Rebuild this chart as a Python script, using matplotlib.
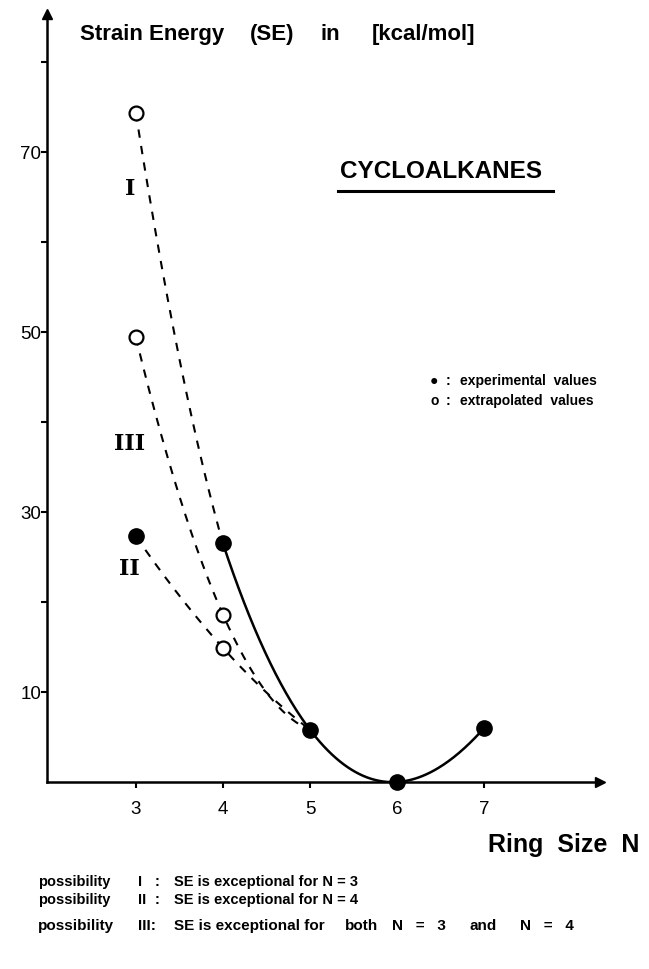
import numpy as np
import matplotlib.pyplot as plt

plt.rcParams['font.family'] = ['Liberation Sans', 'DejaVu Sans']

## Data
##############
# experimental strain energies (filled circles)
exp_n = [3, 4, 5, 6, 7]
exp_se = [27.3, 26.5, 5.8, 0.0, 6.0]
# extrapolated values (open circles)
ext_n = [3, 3, 4, 4]
ext_se = [74.3, 49.4, 18.6, 14.9]
# knots for the three possibilities (dashed) and the solid curve
curve_I_n, curve_I_se = [3, 4, 5], [74.3, 26.5, 5.8]
curve_II_n, curve_II_se = [3, 4, 5], [27.3, 14.9, 5.8]
curve_III_n, curve_III_se = [3, 4, 5], [49.4, 18.6, 5.8]
solid_n, solid_se = [4, 5, 6, 7], [26.5, 5.8, 0.0, 6.0]

y_ticks = [10, 20, 30, 40, 50, 60, 70, 80]
y_labels = ["10", "", "30", "", "50", "", "70", ""]
x_ticks = [3, 4, 5, 6, 7]

title_words = ["Strain Energy", "(SE)", "in", "[kcal/mol]"]
notes = [("I", ":", ["SE is exceptional for N = 3"]),
         ("II", ":", ["SE is exceptional for N = 4"]),
         ("III:", "", ["SE is exceptional for", "both", "N   =   3", "and", "N   =   4"])]

W, H = 649, 970


def smooth(ns, ses, lo, hi):
    # smooth curve through the knots
    p = np.polyfit(ns, ses, len(ns) - 1)
    xs = np.linspace(lo, hi, 200)
    return xs, np.polyval(p, xs)


## Plotting
##############
fig = plt.figure(figsize=(W / 100, H / 100), dpi=100)
ax = fig.add_axes([47 / W, (H - 783) / H, (600 - 47) / W, (783 - 15) / H])
ax.set_xlim(1.98, 8.33)
ax.set_ylim(0, 85.3)

for side in ["top", "right"]:
    ax.spines[side].set_visible(False)
for side in ["left", "bottom"]:
    ax.spines[side].set_linewidth(1.8)

# arrow heads on the axes
ax.plot(1, 0, ">k", ms=7, transform=ax.transAxes, clip_on=False)
ax.plot(0, 1, "^k", ms=7, transform=ax.transAxes, clip_on=False)

ax.set_xticks(x_ticks)
ax.set_xticklabels([str(t) for t in x_ticks], fontsize=13.5)
ax.set_yticks(y_ticks)
ax.set_yticklabels(y_labels, fontsize=13.5)
ax.tick_params(direction="out", length=4, width=1.5)
ax.tick_params(axis="y", pad=0)
ax.tick_params(axis="x", pad=9)

dash = (0, (4, 4))
xs, ys = smooth(curve_I_n, curve_I_se, 3, 4)
ax.plot(xs, ys, color="k", lw=1.5, ls=dash)
xs, ys = smooth(curve_II_n, curve_II_se, 3, 5)
ax.plot(xs, ys, color="k", lw=1.5, ls=dash)
xs, ys = smooth(curve_III_n, curve_III_se, 3, 5)
ax.plot(xs, ys, color="k", lw=1.5, ls=dash)
xs, ys = smooth(solid_n, solid_se, 4, 7)
ax.plot(xs, ys, color="k", lw=1.8)

ax.plot(exp_n, exp_se, "o", color="k", ms=11, clip_on=False, zorder=5)
ax.plot(ext_n, ext_se, "o", mfc="white", mec="k", mew=1.6, ms=10, clip_on=False, zorder=5)

# roman numerals
roman = dict(family="DejaVu Serif", fontsize=16, fontweight="bold", ha="center", va="center")
ax.text(2.94, 66, "I", **roman)
ax.text(2.93, 37.6, "III", **roman)
ax.text(2.93, 23.8, "II", **roman)


def ftext(x, y, s, va="center", **kw):
    fig.text(x / W, 1 - y / H, s, va=va, fontweight="bold", **kw)


for word, x in zip(title_words, [80, 250, 320, 372]):
    ftext(x, 40, word, va="baseline", fontsize=16)
ftext(340, 172, "CYCLOALKANES", fontsize=17.5)
fig.add_artist(plt.Line2D([338 / W, 553 / W], [1 - 192 / H, 1 - 192 / H], color="k", lw=2.2))

ftext(430, 381, "\u25cf", fontsize=10)
ftext(430, 401, "o", fontsize=10)
ftext(446, 381, ":", fontsize=10)
ftext(446, 401, ":", fontsize=10)
ftext(460, 381, "experimental  values", fontsize=10)
ftext(460, 401, "extrapolated  values", fontsize=10)

ftext(488, 845, "Ring  Size  N", fontsize=18)

note_x = [[174], [174], [174, 345, 392, 470, 520]]
for (num, colon, parts), xs_, y, fs in zip(notes, note_x, [886, 904, 930], [10.5, 10.5, 11]):
    ftext(38, y, "possibility", va="baseline", fontsize=fs)
    ftext(138, y, num, va="baseline", fontsize=fs)
    ftext(155, y, colon, va="baseline", fontsize=fs)
    for part, x in zip(parts, xs_):
        ftext(x, y, part, va="baseline", fontsize=fs)

plt.savefig("out.png", dpi=100)
